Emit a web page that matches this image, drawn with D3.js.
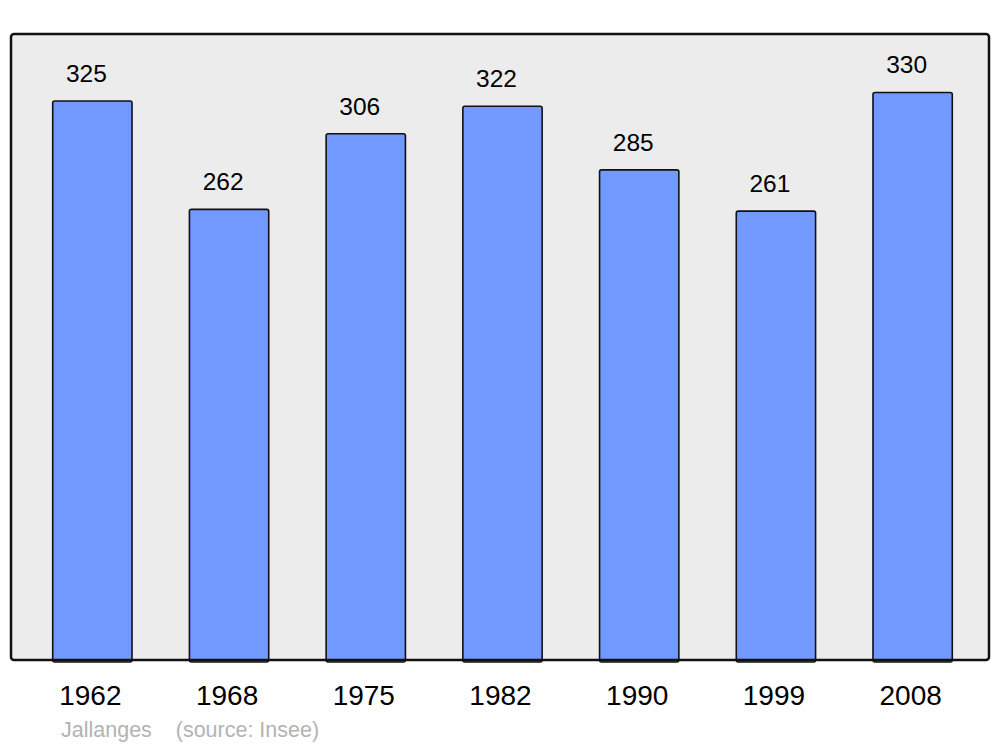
<!DOCTYPE html>
<html>
<head>
<meta charset="utf-8">
<script src="https://cdn.jsdelivr.net/npm/d3@7"></script>
<style>
  html, body { margin: 0; padding: 0; background: #fff; }
  svg { display: block; font-family: "Liberation Sans", Arial, sans-serif; }
</style>
</head>
<body>
<svg id="chart"></svg>
<script>
// data
const years = ["1962", "1968", "1975", "1982", "1990", "1999", "2008"];
const population = [325, 262, 306, 322, 285, 261, 330];
const caption = "Jallanges\u00a0\u00a0\u00a0\u00a0(source: Insee)";

const width = 1000;
const height = 747;
const panel = { left: 11, top: 34, right: 989, bottom: 660 };

const svg = d3.select("#chart")
  .attr("width", width)
  .attr("height", height);

// scales
const x = d3.scaleBand()
  .domain(years)
  .range([24, 981])
  .paddingInner(0.42)
  .paddingOuter(0.21);

const y = d3.scaleLinear()
  .domain([0, 364])
  .range([panel.bottom, panel.top]);

// background panel
svg.append("rect")
  .attr("x", panel.left)
  .attr("y", panel.top)
  .attr("width", panel.right - panel.left)
  .attr("height", panel.bottom - panel.top)
  .attr("rx", 3)
  .attr("fill", "#ececec");

const rows = years.map((yr, i) => ({ year: yr, value: population[i] }));

// bars
svg.selectAll("rect.bar")
  .data(rows)
  .enter()
  .append("rect")
  .attr("class", "bar")
  .attr("x", d => x(d.year))
  .attr("y", d => y(d.value))
  .attr("width", x.bandwidth())
  .attr("height", d => y(0) - y(d.value) + 2)
  .attr("rx", 2)
  .attr("fill", "#7299ff")
  .attr("stroke", "#111")
  .attr("stroke-width", 1.6);

// value labels
svg.selectAll("text.val")
  .data(rows)
  .enter()
  .append("text")
  .attr("class", "val")
  .attr("x", d => x(d.year) + x.bandwidth() / 2 - 6)
  .attr("y", d => y(d.value) - 19)
  .attr("text-anchor", "middle")
  .attr("font-size", 24.5)
  .attr("fill", "#000")
  .text(d => d.value);

// panel border on top
svg.append("rect")
  .attr("x", panel.left)
  .attr("y", panel.top)
  .attr("width", panel.right - panel.left)
  .attr("height", panel.bottom - panel.top)
  .attr("rx", 3)
  .attr("fill", "none")
  .attr("stroke", "#111")
  .attr("stroke-width", 2.5);

// year labels
svg.selectAll("text.year")
  .data(rows)
  .enter()
  .append("text")
  .attr("class", "year")
  .attr("x", d => x(d.year) + x.bandwidth() / 2 - 2)
  .attr("y", 705)
  .attr("text-anchor", "middle")
  .attr("font-size", 28)
  .attr("fill", "#000")
  .text(d => d.year);

// source caption
svg.append("text")
  .attr("x", 61)
  .attr("y", 737)
  .attr("font-size", 21.5)
  .attr("fill", "#b3b3b3")
  .attr("xml:space", "preserve")
  .text(caption);
</script>
</body>
</html>
